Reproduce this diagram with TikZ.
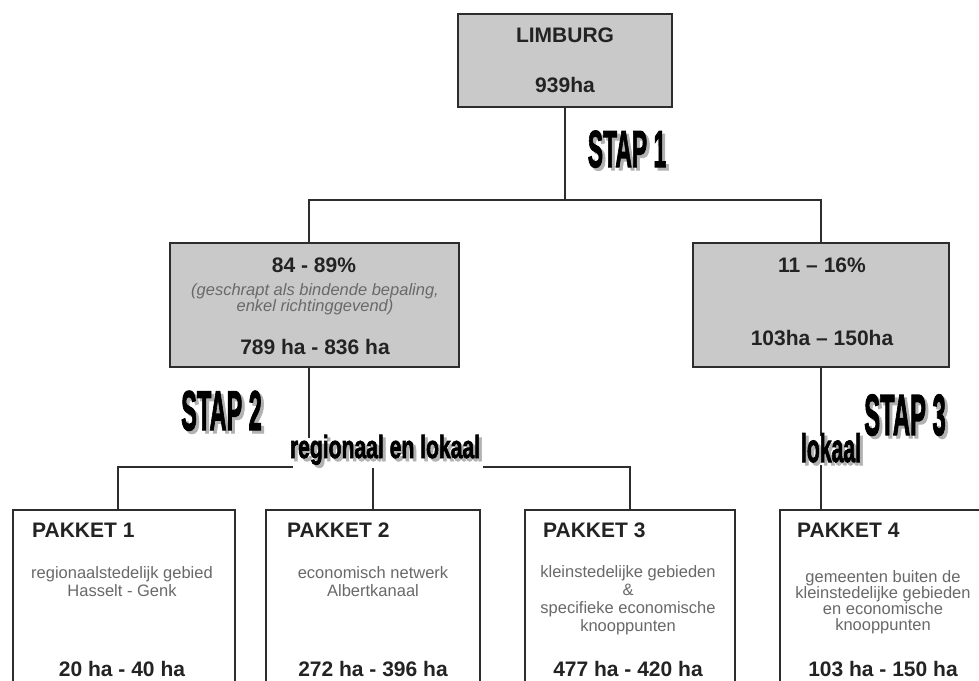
\documentclass[tikz,border=0pt]{standalone}
\usepackage{fontspec}
\setmainfont{Liberation Sans}
\newfontfamily\stapfont{Liberation Sans}[BoldFeatures={FakeBold=2.5}]
\usepackage{graphicx}
\usetikzlibrary{positioning, calc}

\definecolor{boxgrey}{RGB}{201,201,201}
\definecolor{linegrey}{RGB}{45,45,45}
\definecolor{txtdark}{RGB}{35,35,35}
\definecolor{txtgrey}{RGB}{105,105,105}

% size, horizontal squeeze, text
\newcommand{\stapword}[3]{\scalebox{#2}[1]{\fontsize{#1}{#1}\selectfont\stapfont\bfseries #3}}

\begin{document}
\begin{tikzpicture}[x=1pt, y=-1pt,
  greybox/.style={draw=linegrey, line width=1.6pt, fill=boxgrey, inner sep=0pt},
  pakbox/.style={draw=linegrey, line width=1.6pt, fill=white, inner sep=0pt, anchor=north, minimum height=200pt},
  conn/.style={draw=linegrey, line width=1.6pt},
  bigtxt/.style={font=\fontsize{21}{25}\selectfont\bfseries, text=txtdark, inner sep=0pt},
  smalltxt/.style={font=\fontsize{16.5}{18}\selectfont, text=txtgrey, align=center, inner sep=0pt},
  stap/.style={anchor=base, inner sep=0pt, text=black},
  stapshade/.style={anchor=base, inner sep=0pt, text=black!30, fill=white}]
\useasboundingbox (0,0) rectangle (979,680);
\clip (0,0) rectangle (979,680);
% Boxes
\node[greybox, minimum width=214pt, minimum height=93pt] (limburg) at (565,60.5) {};
\node[greybox, minimum width=289pt, minimum height=124pt] (regio) at (314.5,305) {};
\node[greybox, minimum width=256pt, minimum height=124pt] (lokaalbox) at (821,305) {};
\node[pakbox, minimum width=222pt] (pak1) at (124,509) {};
\node[pakbox, minimum width=214pt] (pak2) at (373,509) {};
\node[pakbox, minimum width=210pt] (pak3) at (630,509) {};
\node[pakbox, minimum width=210pt] (pak4) at (885,509) {};
% Connectors
\coordinate (split1) at (565,200);
\coordinate (split2) at (309,467);
\draw[conn] (limburg.south) -- (split1);
\draw[conn] ([xshift=-5.5pt]regio.north) |- (split1) -| (lokaalbox.north);
\draw[conn] ([xshift=-5.5pt]regio.south) -- (split2);
\draw[conn] ([xshift=-6pt]pak1.north) |- (split2) -| (pak3.north);
\draw[conn] (pak2.north) -- (pak2.north |- split2);
\draw[conn] (lokaalbox.south) -- (lokaalbox.south |- pak4.north);
% Top box text
\node[bigtxt, align=center] (limburgtxt) at (limburg) {LIMBURG\\[25pt]939ha};
% Second row
\node[bigtxt] (regiopct) at (314,265) {84 - 89\%};
\node[smalltxt, font=\fontsize{16.5}{15}\selectfont\itshape] (regionote) at (315,299.5) {(geschrapt als bindende bepaling,\\enkel richtinggevend)};
\node[bigtxt] (regioha) at (315,347) {789 ha - 836 ha};
\node[bigtxt] (lokaalpct) at (822,265) {11 -- 16\%};
\node[bigtxt] (lokaalha) at (822,338) {103ha -- 150ha};
% Pakketten
\node[bigtxt, anchor=west] (pak1head) at (32,530) {PAKKET 1};
\node[bigtxt, anchor=west] (pak2head) at (287,530) {PAKKET 2};
\node[bigtxt, anchor=west] (pak3head) at (543,530) {PAKKET 3};
\node[bigtxt, anchor=west] (pak4head) at (797,530) {PAKKET 4};
\node[smalltxt] (pak1desc) at (122,581.5) {regionaalstedelijk gebied\\Hasselt - Genk};
\node[smalltxt] (pak2desc) at (373,582) {economisch netwerk\\Albertkanaal};
\node[smalltxt] (pak3desc) at (628,600.5) {kleinstedelijke gebieden\\\&\\specifieke economische\\knooppunten};
\node[smalltxt, font=\fontsize{16.5}{16}\selectfont] (pak4desc) at (883,602.5) {gemeenten buiten de\\kleinstedelijke gebieden\\en economische\\knooppunten};
\node[bigtxt] (pak1ha) at (122,669) {20 ha - 40 ha};
\node[bigtxt] (pak2ha) at (373,669) {272 ha - 396 ha};
\node[bigtxt] (pak3ha) at (628,669) {477 ha - 420 ha};
\node[bigtxt] (pak4ha) at (883,669) {103 ha - 150 ha};
% Stappen (with shadow)
\node[stapshade] (stap1s) at (630,170) {\stapword{52}{0.44}{STAP 1}};
\node[stap] (stap1) at (627,167) {\stapword{52}{0.44}{STAP 1}};
\node[stapshade] (stap2s) at (224.5,433) {\stapword{56}{0.42}{STAP 2}};
\node[stap] (stap2) at (221.5,430) {\stapword{56}{0.42}{STAP 2}};
\node[stapshade] (stap3s) at (908,438) {\stapword{58}{0.41}{STAP 3}};
\node[stap] (stap3) at (905,435) {\stapword{58}{0.41}{STAP 3}};
\node[stapshade] (regshade) at (388,461) {\stapword{32}{0.66}{regionaal en lokaal}};
\node[stap] (regtxt) at (385,458) {\stapword{32}{0.66}{regionaal en lokaal}};
\node[stapshade] (lokshade) at (834,465) {\stapword{40}{0.53}{lokaal}};
\node[stap] (loktxt) at (831,462) {\stapword{40}{0.53}{lokaal}};
\end{tikzpicture}
\end{document}
